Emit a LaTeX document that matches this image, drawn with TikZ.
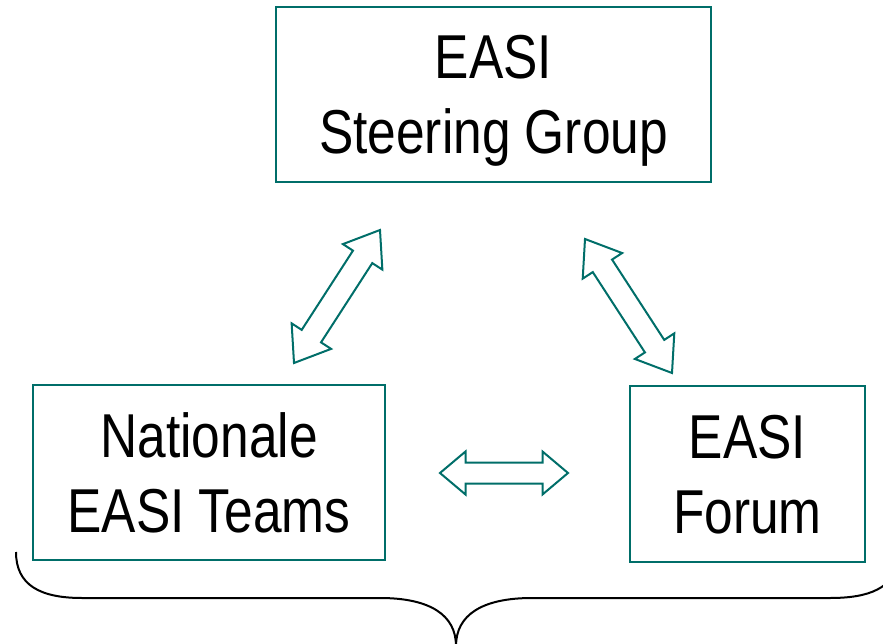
\documentclass[tikz,border=0pt]{standalone}
\usepackage{fontspec}
\setmainfont{Liberation Sans}[FakeStretch=0.83]
\usetikzlibrary{calc}
\usetikzlibrary{positioning}
\definecolor{easiteal}{RGB}{0,110,105}
\tikzset{easi box/.style={
    draw=easiteal, line width=2pt,
    align=center, inner sep=0pt,
    font=\fontsize{62}{75}\selectfont,
    text depth=0pt
  },
  block arrow/.style={
    draw=easiteal, line width=2pt,
    fill=white, line join=miter
  },
  brace line/.style={
    draw=black, line width=2pt
  },
}
% double headed block arrow: tips #1 and #2, head length #3,
% half head width #4, half shaft width #5
\newcommand{\dblarrow}[5]{%
  \coordinate (#1h) at ($(#1)!#3!(#2)$);
  \coordinate (#2h) at ($(#2)!#3!(#1)$);
  \draw[block arrow] (#1) -- ($(#1h)!#4!90:(#2)$) -- ($(#1h)!#5!90:(#2)$)
    -- ($(#2h)!#5!-90:(#1)$) -- ($(#2h)!#4!-90:(#1)$) -- (#2)
    -- ($(#2h)!#4!90:(#1)$) -- ($(#2h)!#5!90:(#1)$)
    -- ($(#1h)!#5!-90:(#2)$) -- ($(#1h)!#4!-90:(#2)$) -- cycle;
}

\begin{document}
\begin{tikzpicture}[x=1pt,y=-1pt]
  \useasboundingbox (0,0) rectangle (883,644);

  \node[easi box, minimum width=435pt, minimum height=175pt] (steer) at (493.5,94.5)
    {EASI\\Steering Group};
  \node[easi box, minimum width=352pt, minimum height=175pt] (teams) at (209,472.5)
    {Nationale\\EASI Teams};
  \node[easi box, minimum width=235pt, minimum height=176pt] (forum) at (747.5,474)
    {EASI\\Forum};

  \coordinate (st-l) at (380,230);
  \coordinate (te-t) at (294,363);
  \coordinate (st-r) at (585,239);
  \coordinate (fo-t) at (672,373);
  \coordinate (te-r) at (440,473);
  \coordinate (fo-l) at (568,473);

  \dblarrow{st-l}{te-t}{32pt}{23.5pt}{11.5pt}
  \dblarrow{st-r}{fo-t}{32pt}{23.5pt}{11.5pt}
  \dblarrow{te-r}{fo-l}{25.5pt}{21.5pt}{10.5pt}

  \begin{scope}
    \clip (0,0) rectangle (883,644);
    \draw[brace line] (16,552) .. controls (16,585) and (40,598) .. (82,598)
      -- (380,598) .. controls (430,598) and (456,615) .. (456,646)
      (456,646) .. controls (456,615) and (482,598) .. (532,598)
      -- (830,598) .. controls (870,598) and (893,588) .. (900,560);
  \end{scope}
\end{tikzpicture}
\end{document}
